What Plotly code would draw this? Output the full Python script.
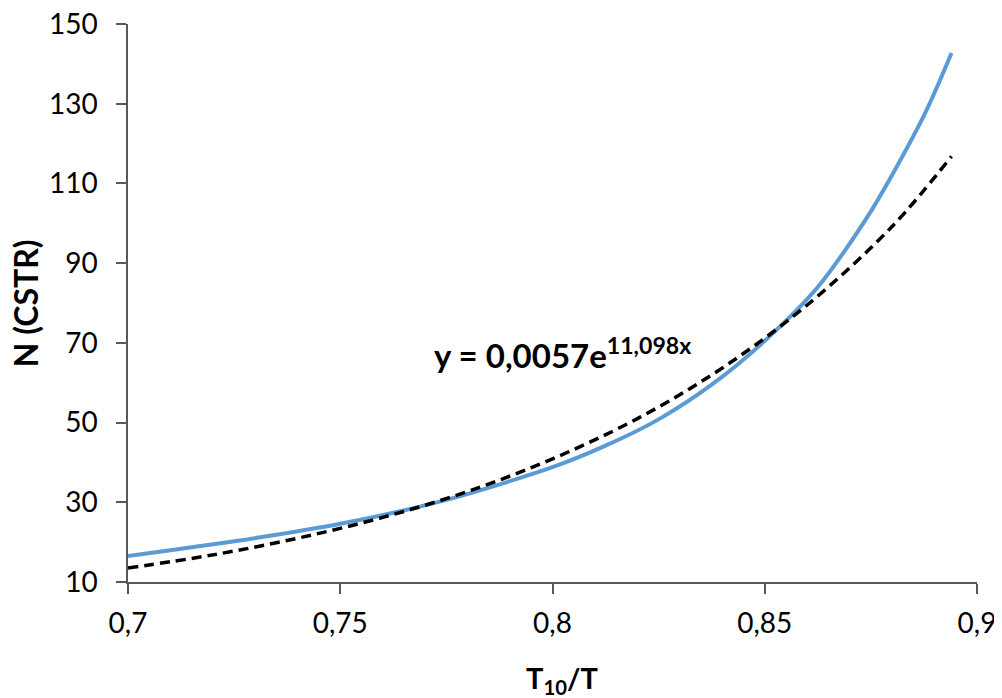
import plotly.graph_objects as go

# Blue curve: N (CSTR) vs T10/T
x_blue = [0.700, 0.725, 0.750, 0.775, 0.800, 0.8125, 0.825, 0.8375,
          0.850, 0.8625, 0.875, 0.8875, 0.894]
n_blue = [16.5, 20.2, 24.6, 30.6, 38.8, 44.2, 50.8, 59.5,
          70.5, 84.0, 103.0, 127.0, 142.7]

# Exponential trend line y = 0,0057e^(11,098x)
x_trend = [0.70, 0.72, 0.74, 0.76, 0.78, 0.80, 0.82, 0.84, 0.86, 0.88, 0.894]
n_trend = [13.5, 16.8, 21.0, 26.2, 32.7, 40.9, 51.0, 63.7, 79.5, 99.2, 116.8]

x_ticks = [0.7, 0.75, 0.8, 0.85, 0.9]
y_ticks = [10, 30, 50, 70, 90, 110, 130, 150]

FONT = "Lato"
AXIS_COLOR = "#595959"

fig = go.Figure()
fig.add_trace(go.Scatter(x=x_blue, y=n_blue, mode="lines",
                         line=dict(color="#5B9BD5", width=4, shape="spline", smoothing=0.8),
                         showlegend=False, hoverinfo="skip"))
fig.add_trace(go.Scatter(x=x_trend, y=n_trend, mode="lines",
                         line=dict(color="black", width=3.5, dash="10px,6px", shape="spline"),
                         showlegend=False, hoverinfo="skip"))

fig.add_annotation(x=0.7716, y=67.5, xref="x", yref="y",
                   text="<b>y = 0,0057e<sup>11,098x</sup></b>",
                   showarrow=False, xanchor="left", yanchor="middle",
                   font=dict(family=FONT, size=33, color="black"))

# Axis titles
fig.add_annotation(x=0.511, y=-0.174, xref="paper", yref="paper",
                   text="<b>T<sub>10</sub>/T</b>", showarrow=False,
                   xanchor="center", yanchor="middle",
                   font=dict(family=FONT, size=29, color="black"))
fig.add_annotation(x=-0.121, y=0.5, xref="paper", yref="paper",
                   text="<b>N (CSTR)</b>", showarrow=False, textangle=-90,
                   xanchor="center", yanchor="middle",
                   font=dict(family=FONT, size=32, color="black"))

fig.update_layout(
    width=1002, height=698,
    margin=dict(l=120, r=33, t=16, b=124),
    paper_bgcolor="white", plot_bgcolor="white",
    separators=", ",
    font=dict(family=FONT, color="black"),
    xaxis=dict(range=[0.7, 0.9], tickvals=x_ticks, tickformat=".2~f",
               automargin=False, ticklabeloverflow="allow",
               showgrid=False, zeroline=False,
               showline=True, linecolor=AXIS_COLOR, linewidth=1.5,
               ticks="outside", ticklen=10, tickcolor=AXIS_COLOR, tickwidth=1.5,
               tickfont=dict(family=FONT, size=28, color="black"),
               ticklabelstandoff=6),
    yaxis=dict(range=[10, 150], tickvals=y_ticks,
               automargin=False, ticklabeloverflow="allow",
               showgrid=False, zeroline=False,
               showline=True, linecolor=AXIS_COLOR, linewidth=1.5,
               ticks="outside", ticklen=10, tickcolor=AXIS_COLOR, tickwidth=1.5,
               tickfont=dict(family=FONT, size=28, color="black"),
               ticklabelstandoff=13),
)

fig.write_html("out.html")
